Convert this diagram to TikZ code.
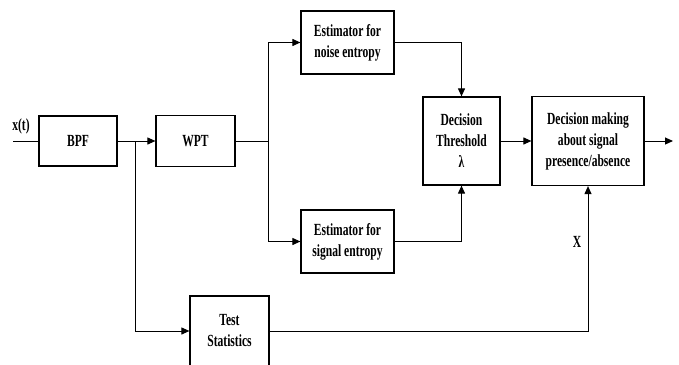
\documentclass[tikz,border=0pt]{standalone}
\usepackage{fontspec}
\setmainfont[FakeStretch=0.68]{Liberation Serif}
\usetikzlibrary{arrows.meta}
\begin{document}
\begin{tikzpicture}[x=1pt, y=-1pt, line width=1pt,
    blk/.style={draw, line width=1.2pt, align=center, inner sep=0pt,
      font=\bfseries\fontsize{17}{21}\selectfont},
    lbl/.style={font=\bfseries\fontsize{17}{21}\selectfont},
    >={Triangle[length=8pt, width=7pt]}]
    \useasboundingbox (0,0) rectangle (679,364);

    % blocks
    \node[blk, minimum width=78, minimum height=50] (bpf) at (78,141) {BPF};
    \node[blk, minimum width=79, minimum height=51] (wpt) at (195.5,141) {WPT};
    \node[blk, minimum width=93, minimum height=63] (noise) at (347.5,42.5)
      {Estimator for\\noise entropy};
    \node[blk, minimum width=93, minimum height=63] (sig) at (347.5,241.5)
      {Estimator for\\signal entropy};
    \node[blk, minimum width=77, minimum height=88] (thr) at (461.5,141)
      {Decision\\Threshold\\λ};
    \node[blk, minimum width=112, minimum height=89] (dec) at (588,141)
      {Decision making\\about signal\\presence/absence};
    \node[blk, minimum width=79, minimum height=70] (test) at (229.5,331)
      {Test\\Statistics};

    \coordinate (in) at (13,141);
    \coordinate (out) at (673,141);
    \coordinate (s1) at (135,141);
    \coordinate (s2) at (268,141);

    \node[lbl] (xt) at (21,126) {x(t)};
    \node[lbl] (xx) at (577,242) {X};

    % connectors
    \draw (in) -- (bpf.west);
    \draw[->] (bpf.east) -- (wpt.west);
    \draw[->] (s1) |- (test.west);
    \draw (wpt.east) -- (s2);
    \draw[->] (s2) |- (noise.west);
    \draw[->] (s2) |- (sig.west);
    \draw[->] (noise.east) -| (thr.north);
    \draw[->] (sig.east) -| (thr.south);
    \draw[->] (thr.east) -- (dec.west);
    \draw[->] (dec.east) -- (out);
    \draw[->] (test.east) -| (dec.south);
  \end{tikzpicture}
\end{document}
